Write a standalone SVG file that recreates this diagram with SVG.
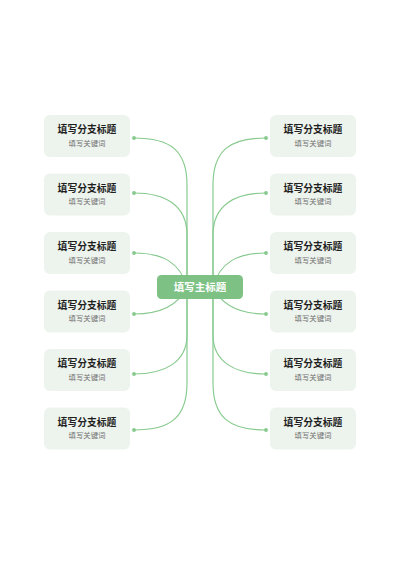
<svg xmlns="http://www.w3.org/2000/svg" width="400" height="566" viewBox="0 0 400 566">
<style>
.node rect{fill:#edf3ed}
.t{font-family:"Noto Sans CJK SC","Noto Sans",sans-serif;font-size:9.8px;font-weight:bold;fill:#1f1f1f;text-anchor:middle}
.k{font-family:"Noto Sans CJK SC","Noto Sans",sans-serif;font-size:7.4px;fill:#707070;text-anchor:middle}
.c path{fill:none;stroke:#86c98d;stroke-width:1.15}
.c circle{fill:#86c98d}
.root rect{fill:#7dc284}
.rt{font-family:"Noto Sans CJK SC","Noto Sans",sans-serif;font-size:10.5px;font-weight:bold;fill:#ffffff;text-anchor:middle}
</style>
<rect width="400" height="566" fill="#ffffff"/>
<g class="c" id="connectors">
<path d="M187 287 L187 185 C187 150 170 138 134 138"/>
<path d="M187 287 L187 235 C187 205 165 193 134 193"/>
<path d="M187 287 C180 262 162 253 134 253"/>
<path d="M187 287 C178 306 160 314 134 314"/>
<path d="M187 287 L187 335 C187 362 165 374 134 374"/>
<path d="M187 287 L187 383 C187 418 170 430 134 430"/>
<path d="M213 287 L213 185 C213 150 230 138 266 138"/>
<path d="M213 287 L213 235 C213 205 235 193 266 193"/>
<path d="M213 287 C220 262 238 253 266 253"/>
<path d="M213 287 C222 306 240 314 266 314"/>
<path d="M213 287 L213 335 C213 362 235 374 266 374"/>
<path d="M213 287 L213 383 C213 418 230 430 266 430"/>
<circle cx="134" cy="138" r="1.9"/><circle cx="134" cy="193" r="1.9"/><circle cx="134" cy="253" r="1.9"/>
<circle cx="134" cy="314" r="1.9"/><circle cx="134" cy="374" r="1.9"/><circle cx="134" cy="430" r="1.9"/>
<circle cx="266" cy="138" r="1.9"/><circle cx="266" cy="193" r="1.9"/><circle cx="266" cy="253" r="1.9"/>
<circle cx="266" cy="314" r="1.9"/><circle cx="266" cy="374" r="1.9"/><circle cx="266" cy="430" r="1.9"/>
</g>
<g class="root" id="root"><rect x="157" y="275" width="86" height="24" rx="4.5"/><text class="rt" x="200" y="290.8">填写主标题</text></g>
<g class="node" id="l1"><rect x="44" y="115" width="86" height="42" rx="6"/><text class="t" x="87" y="133">填写分支标题</text><text class="k" x="87" y="145.8">填写关键词</text></g>
<g class="node" id="l2"><rect x="44" y="173.5" width="86" height="42" rx="6"/><text class="t" x="87" y="191.5">填写分支标题</text><text class="k" x="87" y="204.3">填写关键词</text></g>
<g class="node" id="l3"><rect x="44" y="232" width="86" height="42" rx="6"/><text class="t" x="87" y="250">填写分支标题</text><text class="k" x="87" y="262.8">填写关键词</text></g>
<g class="node" id="l4"><rect x="44" y="290.5" width="86" height="42" rx="6"/><text class="t" x="87" y="308.5">填写分支标题</text><text class="k" x="87" y="321.3">填写关键词</text></g>
<g class="node" id="l5"><rect x="44" y="349" width="86" height="42" rx="6"/><text class="t" x="87" y="367">填写分支标题</text><text class="k" x="87" y="379.8">填写关键词</text></g>
<g class="node" id="l6"><rect x="44" y="407.5" width="86" height="42" rx="6"/><text class="t" x="87" y="425.5">填写分支标题</text><text class="k" x="87" y="438.3">填写关键词</text></g>
<g class="node" id="r1"><rect x="270" y="115" width="86" height="42" rx="6"/><text class="t" x="313" y="133">填写分支标题</text><text class="k" x="313" y="145.8">填写关键词</text></g>
<g class="node" id="r2"><rect x="270" y="173.5" width="86" height="42" rx="6"/><text class="t" x="313" y="191.5">填写分支标题</text><text class="k" x="313" y="204.3">填写关键词</text></g>
<g class="node" id="r3"><rect x="270" y="232" width="86" height="42" rx="6"/><text class="t" x="313" y="250">填写分支标题</text><text class="k" x="313" y="262.8">填写关键词</text></g>
<g class="node" id="r4"><rect x="270" y="290.5" width="86" height="42" rx="6"/><text class="t" x="313" y="308.5">填写分支标题</text><text class="k" x="313" y="321.3">填写关键词</text></g>
<g class="node" id="r5"><rect x="270" y="349" width="86" height="42" rx="6"/><text class="t" x="313" y="367">填写分支标题</text><text class="k" x="313" y="379.8">填写关键词</text></g>
<g class="node" id="r6"><rect x="270" y="407.5" width="86" height="42" rx="6"/><text class="t" x="313" y="425.5">填写分支标题</text><text class="k" x="313" y="438.3">填写关键词</text></g>
</svg>
